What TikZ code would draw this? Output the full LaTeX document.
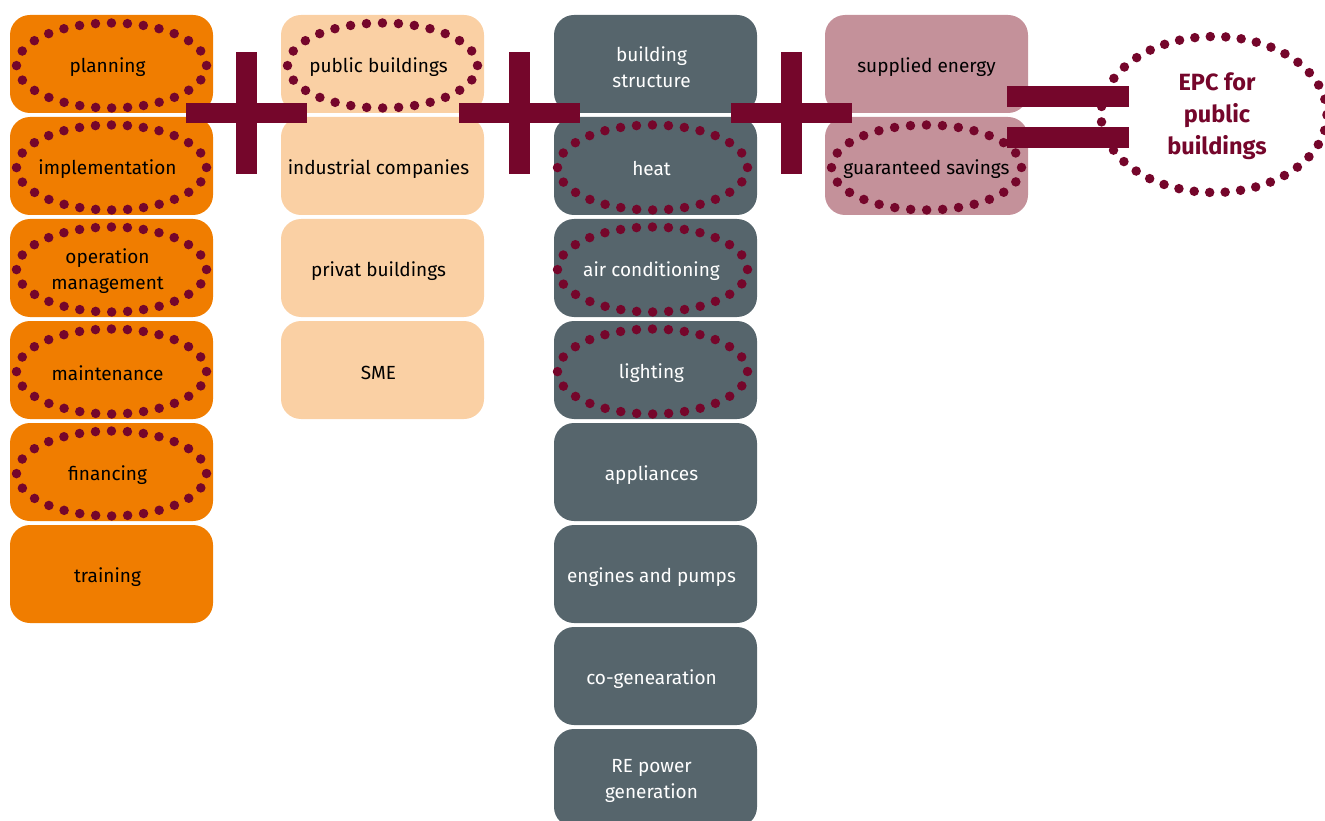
\documentclass[tikz,border=0pt]{standalone}
\usepackage{fontspec}
\setmainfont{Fira Sans}
\usetikzlibrary{shapes.geometric}
\definecolor{cOrange}{HTML}{F07D00}
\definecolor{cPeach}{HTML}{FAD0A4}
\definecolor{cSlate}{HTML}{56656C}
\definecolor{cRose}{HTML}{C4919A}
\definecolor{cMaroon}{HTML}{75062B}
% box node + its label, label shifted slightly as in the reference
\newcommand\mkbox[5]{%
  \node[#1] (#2) at (#3) {};
  \node[lbl, text=#4] (#2-t) at ([xshift=\lblx, yshift=-3pt]#2.center) {#5};
}
\def\lblx{-4pt}
\begin{document}
\begin{tikzpicture}[x=1pt,y=-1pt,
  box/.style={rectangle, rounded corners=20pt, minimum width=203pt, minimum height=98pt, inner sep=0pt},
  lbl/.style={inner sep=0pt, align=center, font=\fontsize{19}{25.5}\selectfont},
  orangebox/.style={box, fill=cOrange},
  peachbox/.style={box, fill=cPeach},
  slatebox/.style={box, fill=cSlate},
  rosebox/.style={box, fill=cRose},
  dots/.style={ellipse, draw=cMaroon, line width=9.5pt, line cap=round,
    dash pattern=on 0pt off 16pt, minimum width=190pt, minimum height=85pt, inner sep=0pt},
  hbar/.style={rectangle, fill=cMaroon, minimum width=121pt, minimum height=20pt, inner sep=0pt},
  vbar/.style={rectangle, fill=cMaroon, minimum width=21pt, minimum height=122pt, inner sep=0pt},
  eqbar/.style={rectangle, fill=cMaroon, minimum width=122pt, minimum height=21pt, inner sep=0pt}]
\useasboundingbox (0,0) rectangle (1325,821);
\clip (0,0) rectangle (1325,821);
% column 1
\mkbox{orangebox}{a1}{111.5,64}{black}{planning}
\mkbox{orangebox}{a2}{111.5,166}{black}{implementation}
\mkbox{orangebox}{a3}{111.5,268}{black}{operation\\management}
\mkbox{orangebox}{a4}{111.5,370}{black}{maintenance}
\mkbox{orangebox}{a5}{111.5,472}{black}{financing}
\mkbox{orangebox}{a6}{111.5,574}{black}{training}
% column 2
\mkbox{peachbox}{b1}{382.5,64}{black}{public buildings}
\mkbox{peachbox}{b2}{382.5,166}{black}{industrial companies}
\mkbox{peachbox}{b3}{382.5,268}{black}{privat buildings}
\mkbox{peachbox}{b4}{382.5,370}{black}{SME}
% column 3
\mkbox{slatebox}{c1}{655.5,64}{white}{building\\structure}
\mkbox{slatebox}{c2}{655.5,166}{white}{heat}
\mkbox{slatebox}{c3}{655.5,268}{white}{air conditioning}
\mkbox{slatebox}{c4}{655.5,370}{white}{lighting}
\mkbox{slatebox}{c5}{655.5,472}{white}{appliances}
\mkbox{slatebox}{c6}{655.5,574}{white}{engines and pumps}
\mkbox{slatebox}{c7}{655.5,676}{white}{co-genearation}
\mkbox{slatebox}{c8}{655.5,778}{white}{RE power\\generation}
% column 4
\def\lblx{0pt}
\mkbox{rosebox}{d1}{926.5,64}{black}{supplied energy}
\mkbox{rosebox}{d2}{926.5,166}{black}{guaranteed savings}
% dotted ellipses
\foreach \n in {a1,a2,a3,a4,a5,b1,d2}{
  \node[dots] (e-\n) at ([yshift=-1.5pt]\n.center) {};
}
\foreach \n in {c2,c3,c4}{
  \node[dots] (e-\n) at ([xshift=-3pt, yshift=-1.5pt]\n.center) {};
}
% result
\node[ellipse, draw=cMaroon, line width=9.5pt, line cap=round, dash pattern=on 0pt off 15.5pt,
  minimum width=226pt, minimum height=156pt, inner sep=0pt] (epc) at (1214,114.5) {};
\node[align=center, text=cMaroon, inner sep=0pt,
  font=\bfseries\fontsize{23.5}{32}\selectfont] (epc-t) at ([xshift=3pt, yshift=-2pt]epc.center) {EPC for\\public\\buildings};
% operators
\coordinate (p1) at (246.5,113);
\coordinate (p2) at (519,113);
\coordinate (p3) at (791,113);
\coordinate (q) at (1068,117);
\foreach \p in {p1,p2,p3}{
  \node[hbar] (h-\p) at (\p) {};
  \node[vbar] (v-\p) at (\p) {};
}
\node[eqbar] (eq1) at ([yshift=20.5pt]q) {};
\node[eqbar] (eq2) at ([yshift=-20.5pt]q) {};
\end{tikzpicture}
\end{document}
